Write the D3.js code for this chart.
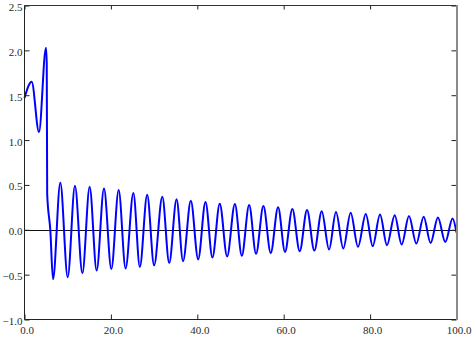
<!DOCTYPE html>
<html>
<head>
<meta charset="utf-8">
<script src="https://cdn.jsdelivr.net/npm/d3@7"></script>
<style>
  html, body { margin: 0; padding: 0; background: #fff; }
  svg { display: block; }
  svg text { font-family: "Liberation Serif", "Times New Roman", serif; font-size: 11px; }
</style>
</head>
<body>
<svg id="chart" width="474" height="341"></svg>
<script>
// Key points of the curve (extrema and breaks)
const timeValues = [
  0, 1.66, 3.35, 4.97, 5.15, 5.25, 5.97, 6.6,
  8.29, 10.0, 11.68, 13.4, 15.08, 16.7, 18.4, 20.1, 21.8, 23.4,
  25.2, 26.7, 28.4, 30.0, 31.9, 33.5, 35.2, 36.7, 38.5, 40.2,
  41.9, 43.5, 45.2, 46.9, 48.7, 50.3, 52.0, 53.6, 55.3, 57.0,
  58.7, 60.3, 62.0, 63.7, 65.4, 67.1, 68.8, 70.5, 72.1, 73.8,
  75.5, 77.2, 79.0, 80.6, 82.3, 83.9, 85.7, 87.3, 89.0, 90.7,
  92.4, 94.0, 95.7, 97.4, 99.1, 100
];
const signalValues = [
  1.47, 1.65, 1.09, 2.03, 1.85, 0.40, 0.0, -0.55,
  0.525, -0.53, 0.49, -0.485, 0.48, -0.455, 0.46, -0.437, 0.443, -0.432,
  0.41, -0.415, 0.39, -0.396, 0.368, -0.37, 0.34, -0.35, 0.323, -0.33,
  0.31, -0.31, 0.29, -0.297, 0.287, -0.29, 0.275, -0.268, 0.264, -0.258,
  0.25, -0.247, 0.232, -0.239, 0.22, -0.232, 0.208, -0.22, 0.197, -0.209,
  0.189, -0.19, 0.177, -0.182, 0.171, -0.172, 0.163, -0.165, 0.153, -0.154,
  0.145, -0.147, 0.138, -0.136, 0.127, -0.03
];
const xTicks = [0, 20, 40, 60, 80, 100];
const yTicks = [-1.0, -0.5, 0.0, 0.5, 1.0, 1.5, 2.0, 2.5];

const svg = d3.select("#chart");
const pLeft = 24.5, pRight = 456.5, pTop = 5.5, pBottom = 319.5;

const x = d3.scaleLinear().domain([0, 100]).range([pLeft, pRight]);
const y = d3.scaleLinear().domain([-1.0, 2.5]).range([pBottom, pTop]);
const fmt = d3.format(".1f");
const font = "Liberation Serif";

// zero line
svg.append("line")
  .attr("x1", x(0)).attr("x2", x(100))
  .attr("y1", Math.round(y(0)) + 0.5).attr("y2", Math.round(y(0)) + 0.5)
  .attr("stroke", "#111").attr("stroke-width", 1);

// curve
const pts = timeValues.map((t, i) => [t, signalValues[i]]);
const line = d3.line().x(d => x(d[0])).y(d => y(d[1])).curve(d3.curveMonotoneX);
svg.append("path")
  .attr("d", line(pts))
  .attr("fill", "none")
  .attr("stroke", "#0000ff")
  .attr("stroke-width", 2)
  .attr("stroke-linejoin", "round");

function styleAxis(g) {
  g.attr("font-family", font).attr("font-size", 11);
  g.select(".domain").remove();
  g.selectAll(".tick line").attr("stroke", "#222");
  g.selectAll(".tick text").attr("fill", "#2a2a2a")
    .attr("font-family", font).attr("font-size", 11);
}

// bottom axis
svg.append("g").attr("transform", `translate(0,${pBottom})`)
  .call(d3.axisBottom(x).tickValues(xTicks).tickFormat(fmt).tickSize(-5).tickPadding(7))
  .call(styleAxis)
  .call(g => g.selectAll(".tick text").attr("dx", 2));

// top ticks
svg.append("g").attr("transform", `translate(0,${pTop})`)
  .call(d3.axisTop(x).tickValues(xTicks).tickFormat("").tickSize(-4))
  .call(styleAxis);

// left axis
svg.append("g").attr("transform", `translate(${pLeft},0)`)
  .call(d3.axisLeft(y).tickValues(yTicks).tickFormat(fmt).tickSize(-5).tickPadding(2))
  .call(styleAxis)
  .call(g => g.selectAll(".tick text").attr("dy", "0.45em"));

// right ticks
svg.append("g").attr("transform", `translate(${pRight},0)`)
  .call(d3.axisRight(y).tickValues(yTicks).tickFormat("").tickSize(-5))
  .call(styleAxis);

// frame
svg.append("line").attr("x1", pLeft).attr("x2", pLeft).attr("y1", pTop).attr("y2", pBottom)
  .attr("stroke", "#222").attr("stroke-width", 1);
svg.append("line").attr("x1", pLeft).attr("x2", pRight).attr("y1", pBottom).attr("y2", pBottom)
  .attr("stroke", "#222").attr("stroke-width", 1);
svg.append("line").attr("x1", pLeft).attr("x2", pRight).attr("y1", pTop).attr("y2", pTop)
  .attr("stroke", "#333").attr("stroke-width", 1);
svg.append("line").attr("x1", pRight + 0.5).attr("x2", pRight + 0.5).attr("y1", pTop - 0.5).attr("y2", pBottom + 0.5)
  .attr("stroke", "#8a8a8a").attr("stroke-width", 2);
</script>
</body>
</html>
